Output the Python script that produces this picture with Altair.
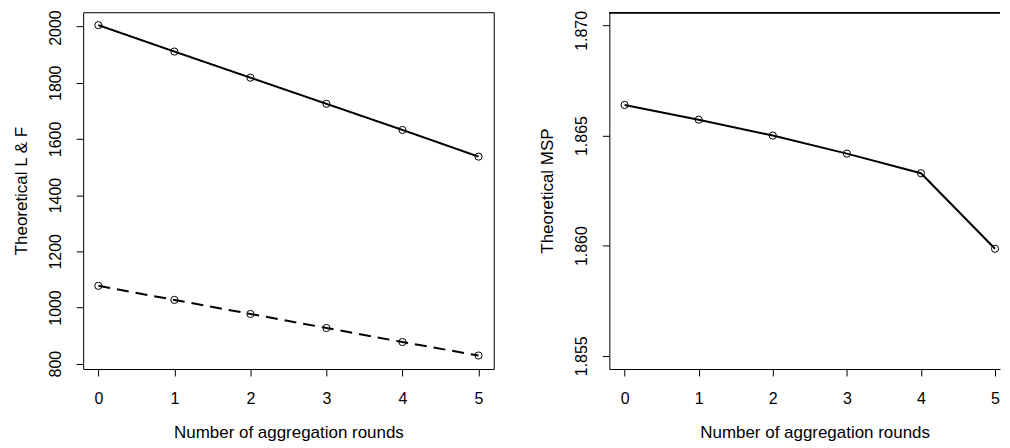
import altair as alt
import pandas as pd

# ---- data ----
rounds = [0, 1, 2, 3, 4, 5]
lf_upper = [2005, 1911, 1818, 1725, 1632, 1537]
lf_lower = [1077, 1027, 977, 927, 877, 829]
msp = [1.86639, 1.86572, 1.86500, 1.86418, 1.86329, 1.85986]

x_ticks = [0, 1, 2, 3, 4, 5]
left_y_ticks = [800, 1000, 1200, 1400, 1600, 1800, 2000]
right_y_ticks = [1.855, 1.860, 1.865, 1.870]

x_title = "Number of aggregation rounds"
left_y_title = "Theoretical L & F"
right_y_title = "Theoretical MSP"

FONT = "Liberation Sans"
FS = 16
TFS = 17

df_left = pd.DataFrame({
    "round": rounds * 2,
    "value": lf_upper + lf_lower,
    "series": ["upper"] * len(rounds) + ["lower"] * len(rounds),
})
df_right = pd.DataFrame({"round": rounds, "value": msp})


def x_axis(domain, title_x):
    return alt.Axis(
        values=x_ticks, format="d", title=x_title, grid=False,
        domain=domain, domainColor="black", domainWidth=1,
        tickSize=7, tickColor="black", tickWidth=1,
        labelFont=FONT, labelFontSize=FS, labelColor="black",
        labelBaseline="alphabetic", labelPadding=27.5,
        labelFlush=False, labelOverlap=False,
        titleFont=FONT, titleFontSize=TFS, titleFontWeight="normal",
        titleColor="black", titleBaseline="alphabetic",
        titleX=title_x, titleY=69, titleAlign="center",
    )


def y_axis(values, fmt, title, domain, top_test, top_off):
    return alt.Axis(
        values=values, format=fmt, title=title, grid=False,
        domain=domain, domainColor="black", domainWidth=1,
        tickSize=7, tickColor="black", tickWidth=1,
        labelFont=FONT, labelFontSize=FS, labelColor="black",
        labelAngle=-90, labelAlign="center", labelBaseline="alphabetic",
        labelPadding=16, labelFlush=False, labelOverlap=False,
        labelOffset={"condition": {"test": top_test, "value": top_off}, "value": 0},
        titleFont=FONT, titleFontSize=TFS, titleFontWeight="normal",
        titleColor="black", titleBaseline="alphabetic", titleX=-57.3,
    )


LW = 412
RW = 392
H = 358

# ---- left panel ----
xl = alt.X("round:Q", scale=alt.Scale(domain=[-0.2, 5.2], nice=False, zero=False),
           axis=x_axis(False, LW / 2))
yl = alt.Y("value:Q", scale=alt.Scale(domain=[781, 2051], nice=False, zero=False),
           axis=y_axis(left_y_ticks, "d", left_y_title, False, "datum.value >= 1999", 1))

left_lines = alt.Chart(df_left).mark_line(color="black", strokeWidth=2).encode(
    x=xl, y=yl,
    strokeDash=alt.StrokeDash("series:N", scale=alt.Scale(domain=["upper", "lower"],
                                                          range=[[1, 0], [12, 7]]), legend=None),
    detail="series:N",
)
left_pts = alt.Chart(df_left).mark_point(shape="circle", filled=False, color="black",
                                         size=52, strokeWidth=1, opacity=1).encode(x=xl, y=yl)
left = alt.layer(left_lines, left_pts).properties(
    width=LW, height=H, view=alt.ViewBackground(stroke="black", strokeWidth=1)
)

# ---- right panel ----
xr = alt.X("round:Q", scale=alt.Scale(domain=[-0.206, 5.067], nice=False, zero=False),
           axis=x_axis(True, 206))
yr = alt.Y("value:Q", scale=alt.Scale(domain=[1.8544, 1.8706], nice=False, zero=False),
           axis=y_axis(right_y_ticks, ".3f", right_y_title, True, "datum.value >= 1.8695", 5))

right_line = alt.Chart(df_right).mark_line(color="black", strokeWidth=2).encode(x=xr, y=yr)
right_pts = alt.Chart(df_right).mark_point(shape="circle", filled=False, color="black",
                                           size=52, strokeWidth=1, opacity=1).encode(x=xr, y=yr)
top_edge = alt.Chart(df_right).mark_rule(color="black", strokeWidth=1).encode(
    x=alt.value(0), x2=alt.value(RW), y=alt.value(0.5)
)
right = alt.layer(right_line, right_pts, top_edge).properties(
    width=RW, height=H, view=alt.ViewBackground(stroke="transparent")
)

chart = alt.hconcat(left, right, spacing=43).properties(
    padding={"left": 3.4, "top": 0.5, "right": 0, "bottom": 0},
    background="white",
).configure(font=FONT)

chart.save("out.html", embed_options={"renderer": "svg", "actions": False})
